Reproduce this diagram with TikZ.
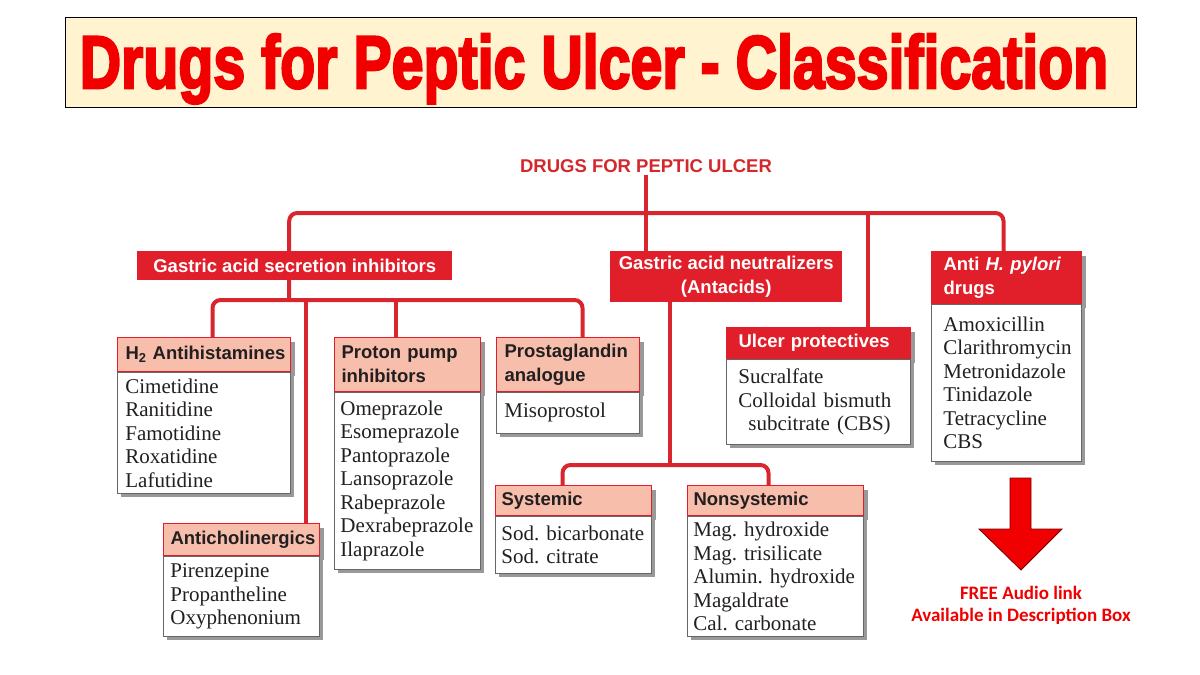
\documentclass[tikz,border=0pt]{standalone}
\usepackage{fontspec}
\usepackage{graphicx}
\setmainfont{Liberation Serif}
\setsansfont{Liberation Sans}
\newfontfamily\titlefont{Liberation Sans}[BoldFeatures={FakeBold=3.5}]
\newfontfamily\notefont{Carlito}
\usetikzlibrary{shadows,calc}
\definecolor{connred}{HTML}{D9262E}
\definecolor{boxred}{HTML}{E11F2B}
\definecolor{salmon}{HTML}{F7BEAC}
\definecolor{titlered}{HTML}{F20000}
\definecolor{cream}{HTML}{FFF3D0}
\definecolor{rootred}{HTML}{D4282D}
\definecolor{arrowred}{HTML}{F00000}
\definecolor{arrowdark}{HTML}{7A0000}
\definecolor{inkc}{HTML}{231F20}
\hyphenpenalty=10000
\exhyphenpenalty=10000
\frenchspacing
\pgfdeclarelayer{bg}
\pgfsetlayers{bg,main}
\begin{document}
\frenchspacing
\begin{tikzpicture}[x=1pt,y=-1pt,
  conn/.style={draw=connred, line width=4pt, rounded corners=8pt},
  shadowed/.style={drop shadow={shadow xshift=4pt, shadow yshift=-4pt, fill=black!40, opacity=1}},
  hdrfont/.style={font=\sffamily\bfseries\fontsize{18.5}{24}\selectfont},
  redbox/.style={fill=boxred, text=white, draw=none, inner sep=0pt, hdrfont, align=center, anchor=north west},
  salhdr/.style={fill=salmon, draw=boxred, line width=1pt, text=inkc, hdrfont, anchor=north west, inner xsep=8pt, inner ysep=1pt, align=left, shadowed},
  redhdr/.style={salhdr, fill=boxred, draw=boxred, text=white},
  body/.style={fill=white, draw=black!60, line width=0.8pt, anchor=north west, inner xsep=8pt, inner ysep=2pt, align=left, font=\rmfamily\fontsize{21}{23.5}\selectfont\frenchspacing, text=inkc, shadowed},
  rootstyle/.style={font=\sffamily\bfseries\fontsize{18.5}{22}\selectfont, text=rootred, inner sep=2pt},
  notestyle/.style={font=\notefont\bfseries\fontsize{19}{22}\selectfont, text=arrowred, align=center}
]
\useasboundingbox (0,0) rectangle (1200,675);

% title
\node[fill=cream, draw=black, line width=0.8pt, minimum width=1071pt, minimum height=90pt, inner sep=0pt] (titlebox) at (600.5,62) {};
\node[anchor=base, inner sep=0pt, text=titlered] (titletext) at (594,88) {\resizebox{1028pt}{54pt}{\titlefont\bfseries Drugs for Peptic Ulcer - Classification}};

% root
\node[rootstyle] (root) at (646,166) {DRUGS FOR PEPTIC ULCER};

% main categories
\node[redbox, minimum width=315pt, minimum height=29pt] (gasi) at (137,251) {Gastric acid secretion inhibitors};
\node[redbox, minimum width=232pt, minimum height=51pt] (gan) at (610,251) {Gastric acid neutralizers\\(Antacids)};

% H2 antihistamines
\node[salhdr, minimum width=173pt, text width=157pt, minimum height=34pt] (h2h) at (117,337) {H\textsubscript{2}~Antihistamines};
\node[body, minimum width=173pt, text width=157pt, minimum height=121pt] (h2b) at (h2h.south west) {Cimetidine\\Ranitidine\\Famotidine\\Roxatidine\\Lafutidine};

% Anticholinergics
\node[salhdr, minimum width=156pt, text width=142pt, inner xsep=7pt, minimum height=32pt] (achh) at (163,523) {Anticholinergics};
\node[body, minimum width=156pt, text width=142pt, inner xsep=7pt, minimum height=80pt] (achb) at (achh.south west) {Pirenzepine\\Propantheline\\Oxyphenonium};

% PPI
\node[salhdr, minimum width=146pt, text width=132pt, inner xsep=7pt, minimum height=54pt] (ppih) at (334,337) {Proton pump\\inhibitors};
\node[body, minimum width=146pt, text width=134pt, inner xsep=6pt, minimum height=177pt] (ppib) at (ppih.south west) {Omeprazole\\Esomeprazole\\Pantoprazole\\Lansoprazole\\Rabeprazole\\Dexrabeprazole\\Ilaprazole};

% Prostaglandin
\node[salhdr, minimum width=143pt, text width=127pt, minimum height=54pt] (pgh) at (496,337) {Prostaglandin\\analogue};
\node[body, minimum width=143pt, text width=127pt, minimum height=41pt] (pgb) at (pgh.south west) {Misoprostol};

% Systemic
\node[salhdr, minimum width=156pt, text width=144pt, inner xsep=6pt, minimum height=30pt] (sysh) at (495,485) {Systemic};
\node[body, minimum width=156pt, text width=144pt, inner xsep=6pt, minimum height=57pt] (sysb) at (sysh.south west) {Sod.~bicarbonate\\Sod.~citrate};

% Nonsystemic
\node[salhdr, minimum width=176pt, text width=164pt, inner xsep=6pt, minimum height=30pt] (nonh) at (687,485) {Nonsystemic};
\node[body, minimum width=176pt, text width=164pt, inner xsep=6pt, minimum height=120pt] (nonb) at (nonh.south west) {Mag.~hydroxide\\Mag.~trisilicate\\Alumin.~hydroxide\\Magaldrate\\Cal.~carbonate};

% Ulcer protectives
\node[redhdr, minimum width=184pt, text width=160pt, inner xsep=12pt, minimum height=31pt] (uph) at (726,327) {Ulcer protectives};
\node[body, minimum width=184pt, text width=160pt, inner xsep=12pt, minimum height=85pt] (upb) at (uph.south west) {Sucralfate\\Colloidal~bismuth\\\hspace*{10pt}subcitrate~(CBS)};

% Anti H. pylori
\node[redhdr, minimum width=150pt, text width=126pt, inner xsep=12pt, minimum height=52pt] (hph) at (931,251) {Anti \textit{H.~pylori}\\drugs};
\node[body, minimum width=150pt, text width=126pt, inner xsep=12pt, minimum height=157pt] (hpb) at (hph.south west) {Amoxicillin\\Clarithromycin\\Metronidazole\\Tinidazole\\Tetracycline\\CBS};

% attach points
\coordinate (topbar) at (0,213);
\coordinate (lowbar) at (0,300);
\coordinate (acbar) at (0,465);
\coordinate (gasiT) at ($(gasi.north)+(-5.5,0)$);
\coordinate (ganT) at ($(gan.north west)+(36,0)$);
\coordinate (ganB) at ($(gan.south west)+(60,0)$);
\coordinate (upT) at ($(uph.north east)+(-43,0)$);
\coordinate (hpT) at ($(hph.north)+(-3,0)$);
\coordinate (h2T) at ($(h2h.north)+(8.5,0)$);
\coordinate (achT) at ($(achh.north east)+(-14,0)$);
\coordinate (ppiT) at ($(ppih.north)+(-12,0)$);
\coordinate (pgT) at ($(pgh.north)+(14.5,0)$);
\coordinate (sysT) at ($(sysh.north)+(-11,0)$);
\coordinate (nonT) at ($(nonh.north)+(-7,0)$);

\begin{pgfonlayer}{bg}
\fill[white] (0,0) rectangle (1200,675);
\draw[conn] (root.south) -- (root.south |- topbar);
\draw[conn] (gasiT |- lowbar) -- (gasiT |- topbar) -- (hpT |- topbar) -- (hpT);
\draw[conn] (ganT |- topbar) -- (ganT);
\draw[conn] (upT |- topbar) -- (upT);
\draw[conn] (h2T) -- (h2T |- lowbar) -- (pgT |- lowbar) -- (pgT);
\draw[conn] (ppiT |- lowbar) -- (ppiT);
\draw[conn] (achT |- lowbar) -- (achT);
\draw[conn] (ganB) -- (ganB |- acbar);
\draw[conn] (sysT) -- (sysT |- acbar) -- (nonT |- acbar) -- (nonT);
\end{pgfonlayer}

% arrow and note
\draw[fill=arrowred, draw=arrowdark, line width=0.8pt] (1010,478) -- (1031,478) -- (1031,529) -- (1062,529) -- (1021,570) -- (979,529) -- (1010,529) -- cycle;
\node[notestyle] (note) at (1021,605) {FREE Audio link\\Available in Description Box};
\end{tikzpicture}
\end{document}
